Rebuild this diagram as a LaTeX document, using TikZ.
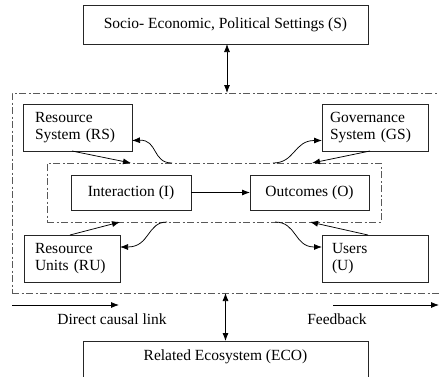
\documentclass[tikz,border=0pt]{standalone}
\usepackage{fontspec}
\setmainfont{Liberation Serif}
\usetikzlibrary{arrows.meta,calc}
\begin{document}
\begin{tikzpicture}[x=1pt,y=-1pt,
  font=\fontsize{15.5}{17}\selectfont,
  box/.style={draw=black!85,line width=0.8pt,inner sep=0pt,outer sep=0pt},
  dd/.style={draw=black!65,line width=0.8pt,inner sep=0pt,outer sep=0pt,dash pattern=on 7pt off 2.5pt on 2pt off 2.5pt},
  arr/.style={-{Latex[length=8pt,width=6pt]},line width=0.75pt},
  darr/.style={{Latex[length=8pt,width=6pt]}-{Latex[length=8pt,width=6pt]},line width=0.75pt}]
\useasboundingbox (0,0) rectangle (439,376);
\clip (0,0) rectangle (439,376);

\node[box,minimum width=285pt,minimum height=39pt] (s) at (225.5,24.5) {Socio- Economic, Political Settings (S)};
\node[dd,minimum width=460pt,minimum height=200pt] (outer) at (242,193) {};
\node[dd,minimum width=334pt,minimum height=59pt] (inner) at (214,192.5) {};

\node[box,minimum width=109pt,minimum height=47pt,text width=85pt,align=left] (rs) at (77.5,127.5) {Resource\\System (RS)};
\node[box,minimum width=106pt,minimum height=47pt,text width=90pt,align=left] (gs) at (375,127.5) {Governance\\System (GS)};
\node[box,minimum width=96pt,minimum height=47pt,text width=74pt,align=left] (ru) at (72,258.5) {Resource\\Units (RU)};
\node[box,minimum width=106pt,minimum height=47pt,text width=86pt,align=left] (u) at (375,258.5) {Users\\(U)};
\node[box,minimum width=120pt,minimum height=35pt] (i) at (131,192.5) {Interaction (I)};
\node[box,minimum width=119pt,minimum height=35pt] (o) at (309.5,192.5) {Outcomes (O)};
\node[box,anchor=north,minimum width=285pt,text height=19pt,text depth=35pt] (eco) at (225.5,341) {Related Ecosystem (ECO)};

% vertical double arrows
\draw[darr] ($(s.south)+(1.5,0)$) coordinate (sa) -- (sa |- outer.north);
\draw[darr] (outer.south -| eco.north) -- (eco.north);

% interaction -> outcomes
\draw[arr] (i) -- (o);

% direct causal links into the inner box
\draw[arr] ($(rs.south west)+(49,0)$) -- ($(inner.north west)+(84,0)$);
\draw[arr] ($(gs.south west)+(48,0)$) -- ($(inner.north west)+(265,0)$);
\draw[arr] ($(ru.north west)+(46,0)$) -- ($(inner.south west)+(73,0)$);
\draw[arr] ($(u.north west)+(46,0)$) -- ($(inner.south west)+(263,0)$);

% feedback curves
\draw[arr] ($(inner.north west)+(125,0)$) .. controls +(-20,0) and +(26,-1) .. ($(rs.east)+(0,13)$);
\draw[arr] ($(inner.north west)+(226,0)$) .. controls +(22,0) and +(-28,0) .. ($(gs.west)+(0,13)$);
\draw[arr] ($(inner.south west)+(120,0)$) .. controls +(-20,0) and +(30,0) .. ($(ru.east)+(0,-11.5)$);
\draw[arr] ($(inner.south west)+(228,0)$) .. controls +(22,0) and +(-28,0) .. ($(u.west)+(0,-11.5)$);

% legend
\coordinate (l1a) at (12,305);
\coordinate (l1b) at (119,305);
\draw[arr] (l1a) -- (l1b);
\node (l1) at (112,319) {Direct causal link};
\coordinate (l2a) at (333,305);
\coordinate (l2b) at (439,305);
\draw[arr] (l2a) -- (l2b);
\node (l2) at (337,319) {Feedback};
\end{tikzpicture}
\end{document}
